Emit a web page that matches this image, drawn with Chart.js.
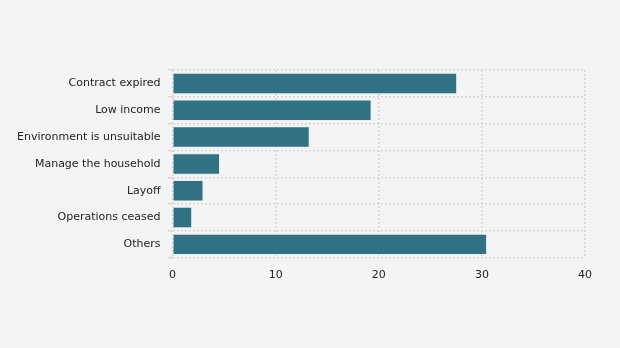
<!DOCTYPE html>
<html>
<head>
<meta charset="utf-8">
<script src="https://cdn.jsdelivr.net/npm/chart.js@4"></script>
<style>
    html, body { margin: 0; padding: 0; background: #f4f4f4; }
    #wrap { width: 620px; height: 348px; }
</style>
</head>
<body>
<div id="wrap"><canvas id="motivosChart"></canvas></div>
<script>
    // Motivos y porcentajes
    const categorias = ['Contract expired', 'Low income', 'Environment is unsuitable', 'Manage the household', 'Layoff', 'Operations ceased', 'Others'];
    const valores = [27.6, 19.3, 13.3, 4.6, 3.0, 1.9, 30.5];
    const ticksX = [0, 10, 20, 30, 40];

    const gridPunteada = {
        color: '#d6d6d6',
        lineWidth: 1.5
    };

    const ctx = document.getElementById('motivosChart').getContext('2d');
    new Chart(ctx, {
        type: 'bar',
        data: {
            labels: categorias,
            datasets: [{
                data: valores,
                backgroundColor: '#307184',
                borderColor: '#e6eef0',
                borderWidth: 1,
                categoryPercentage: 0.8,
                barPercentage: 1
            }]
        },
        options: {
            indexAxis: 'y',
            responsive: true,
            maintainAspectRatio: false,
            animation: false,
            layout: {
                padding: { top: 70, bottom: 55, left: 10, right: 35 }
            },
            plugins: {
                legend: { display: false },
                tooltip: { enabled: false }
            },
            scales: {
                x: {
                    min: ticksX[0],
                    max: ticksX[ticksX.length - 1],
                    afterBuildTicks: axis => { axis.ticks = ticksX.map(v => ({ value: v })); },
                    grid: { ...gridPunteada, drawTicks: false },
                    border: { display: false, dash: [2, 2] },
                    ticks: { color: '#222', font: { family: 'DejaVu Sans', size: 11 }, padding: 11 }
                },
                y: {
                    grid: { ...gridPunteada, offset: true, tickLength: 5 },
                    border: { display: false, dash: [2, 2] },
                    ticks: { color: '#222', font: { family: 'DejaVu Sans', size: 11 }, padding: 7 }
                }
            }
        }
    });
</script>
</body>
</html>
